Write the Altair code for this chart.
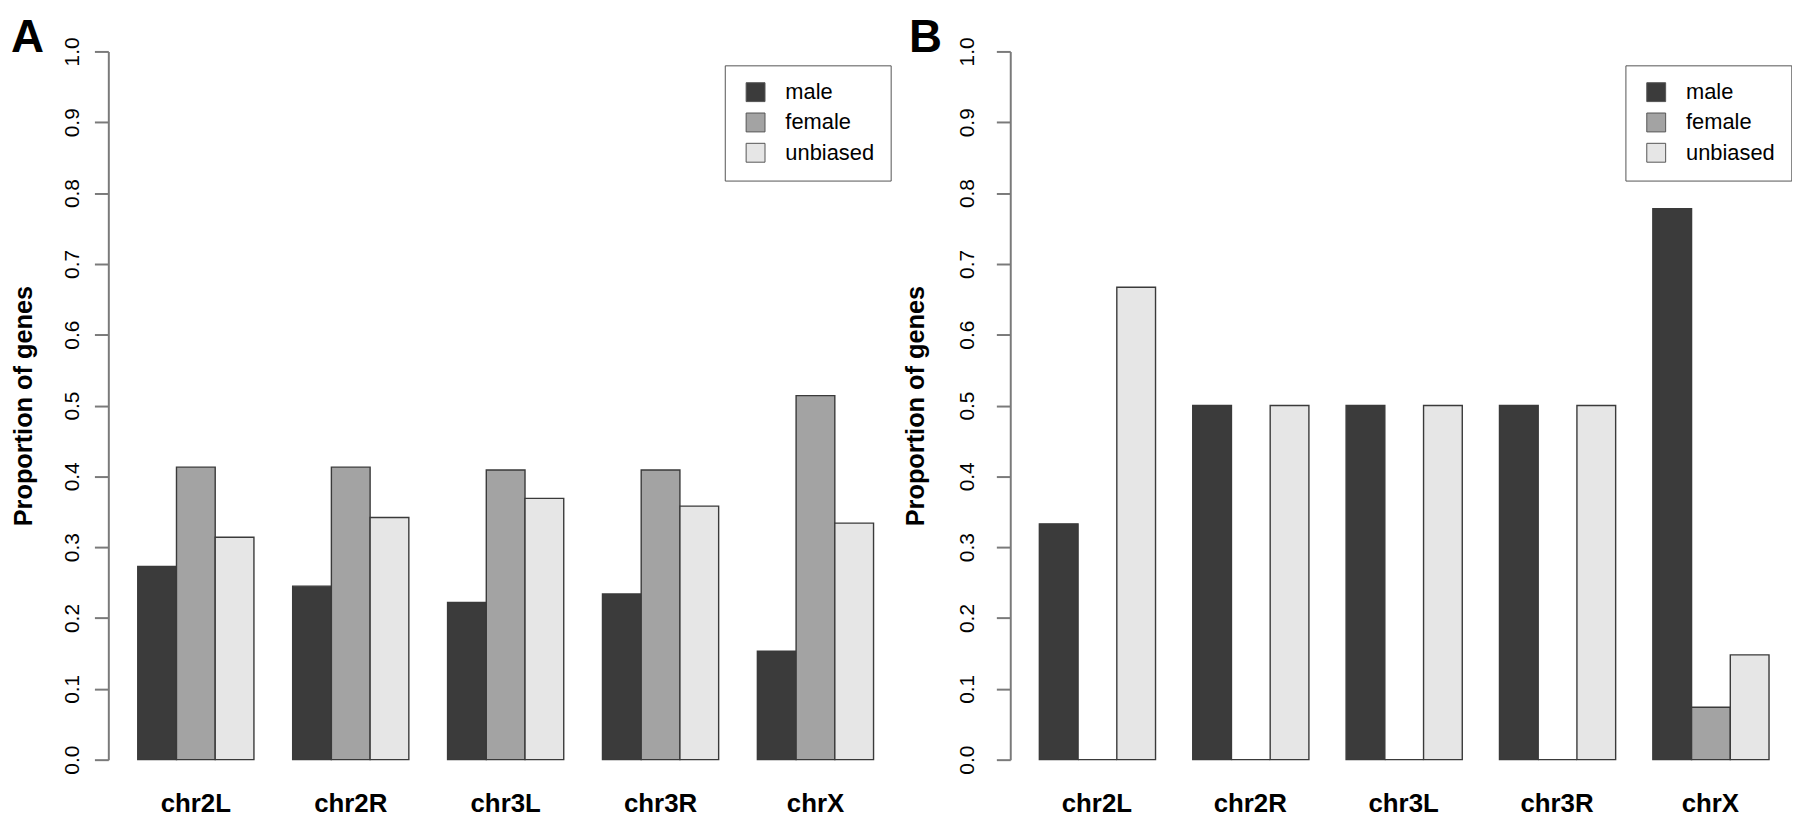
import altair as alt
import pandas as pd

chroms = ["chr2L", "chr2R", "chr3L", "chr3R", "chrX"]
groups = ["male", "female", "unbiased"]

a_male = [0.273, 0.245, 0.222, 0.234, 0.153]
a_female = [0.413, 0.413, 0.409, 0.409, 0.514]
a_unbiased = [0.314, 0.342, 0.369, 0.358, 0.334]

b_male = [0.333, 0.5, 0.5, 0.5, 0.778]
b_female = [0.0, 0.0, 0.0, 0.0, 0.074]
b_unbiased = [0.667, 0.5, 0.5, 0.5, 0.148]

y_ticks = [0.0, 0.1, 0.2, 0.3, 0.4, 0.5, 0.6, 0.7, 0.8, 0.9, 1.0]
colors = ["#3b3b3b", "#a3a3a3", "#e6e6e6"]

FONT = "Liberation Sans"


def long_df(male, female, unbiased):
    rows = []
    for g, vals in zip(groups, [male, female, unbiased]):
        for c, v in zip(chroms, vals):
            rows.append({"chrom": c, "group": g, "value": v})
    return pd.DataFrame(rows)


def panel(df, letter, width, pad_outer, align, label_pad, title_x, letter_x, legend_x):
    H = 713
    bars = alt.Chart(df).mark_bar(stroke="#3a3a3a", strokeWidth=1.4).encode(
        x=alt.X(
            "chrom:N",
            sort=chroms,
            scale=alt.Scale(paddingInner=0.25, paddingOuter=pad_outer, align=align),
            axis=alt.Axis(
                title=None, domain=False, ticks=False, tickSize=0, labelAngle=0,
                labelPadding=52, labelBaseline="alphabetic", labelFontSize=26,
                labelFontWeight="bold", labelFont=FONT, labelColor="black",
            ),
        ),
        xOffset=alt.XOffset("group:N", sort=groups,
                            scale=alt.Scale(paddingInner=0, paddingOuter=0)),
        y=alt.Y(
            "value:Q",
            scale=alt.Scale(domain=[0, 1], nice=False, zero=True),
            axis=alt.Axis(
                values=y_ticks, format=".1f", grid=False,
                labelAngle=270, labelAlign="center", labelBaseline="alphabetic",
                labelPadding=label_pad, labelFontSize=21, labelFont=FONT,
                labelColor="black", tickSize=14, tickWidth=2, tickColor="#7a7a7a",
                domainColor="#7a7a7a", domainWidth=2,
                title="Proportion of genes", titleFont=FONT, titleFontSize=25.5,
                titleFontWeight="bold", titleColor="black", titleAngle=270,
                titleAlign="center", titleBaseline="alphabetic",
                titleX=title_x, titleY=H / 2,
            ),
        ),
        color=alt.Color(
            "group:N",
            sort=groups,
            scale=alt.Scale(domain=groups, range=colors),
            legend=alt.Legend(
                title=None, orient="none", legendX=legend_x, legendY=14,
                padding=16, strokeColor="#555555", fillColor="white",
                cornerRadius=0, symbolType="square", symbolSize=361,
                symbolOffset=4, symbolStrokeColor="#555555", symbolStrokeWidth=1,
                labelFontSize=22, labelFont=FONT, labelColor="black",
                labelOffset=19, rowPadding=6.5,
            ),
        ),
    )
    tag = alt.Chart(pd.DataFrame({"t": [letter]})).mark_text(
        fontSize=46, fontWeight="bold", font=FONT, align="left",
        baseline="alphabetic", color="black",
    ).encode(text="t:N", x=alt.value(letter_x), y=alt.value(1))
    return alt.layer(bars, tag).properties(width=width, height=H)


pA = panel(long_df(a_male, a_female, a_unbiased), "A", 800, 0.19, 0.5,
           16, -77, -98, 620.6)
pB = panel(long_df(b_male, b_female, b_unbiased), "B", 768, 0.112, 0.847,
           23, -87, -102, 619.3)

chart = alt.hconcat(pA, pB, spacing=108, bounds="flush").resolve_scale(
    color="independent"
).configure(
    background="white", padding={"top": 5, "left": 3, "right": 0, "bottom": 0}
).configure_view(stroke=None)

chart.save("out.html", embed_options={"renderer": "svg", "actions": False})
